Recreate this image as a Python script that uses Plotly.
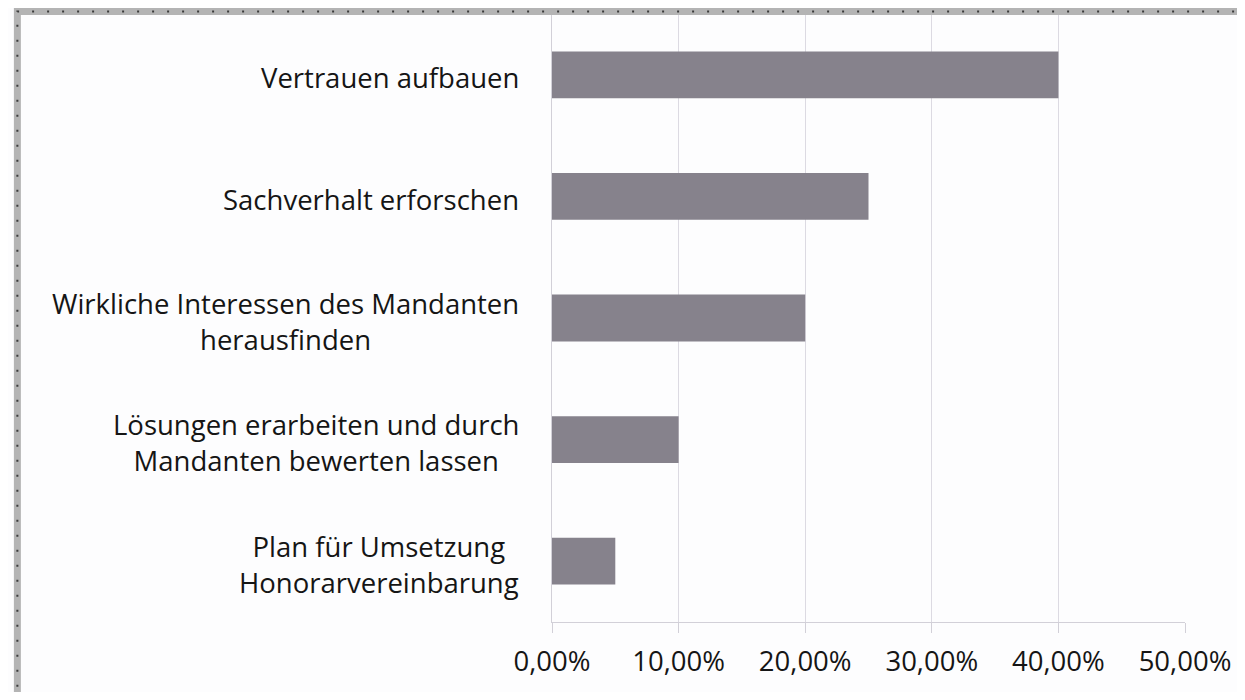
import plotly.graph_objects as go

categories = [
    "Vertrauen aufbauen",
    "Sachverhalt erforschen",
    "Wirkliche Interessen des Mandanten<br>herausfinden",
    "Lösungen erarbeiten und durch<br>Mandanten bewerten lassen",
    "Plan für Umsetzung<br>Honorarvereinbarung",
]
values = [0.40, 0.25, 0.20, 0.10, 0.05]
x_ticks = [0.0, 0.1, 0.2, 0.3, 0.4, 0.5]

OFF = 8  # page body margin
W, H = 1245 - 2 * OFF, 700 - 2 * OFF
# plot area in screen pixels
SL, SR, ST, SB = 552, 1189, 14, 622
L, R, T, B = SL - OFF, SR - OFF, ST - OFF, SB - OFF

def px_x(sx):
    return (sx - SL) / (SR - SL)

def px_y(sy):
    return (SB - sy) / (SB - ST)

FONT = "Open Sans"
TXT = "#151515"
FS = 27.5

fig = go.Figure()
fig.add_trace(go.Bar(
    x=values, y=categories, orientation="h",
    marker=dict(color="#86828c", line=dict(width=0)),
    hoverinfo="skip",
))

fig.update_layout(
    width=W, height=H,
    margin=dict(l=L, r=W - R, t=T, b=H - B, pad=0),
    paper_bgcolor="#fdfdfe", plot_bgcolor="#fdfdfe",
    separators=",.",
    bargap=0.615,
    showlegend=False,
    font=dict(family=FONT, size=FS, color=TXT),
)
fig.update_xaxes(
    range=[0, 0.5], tickvals=x_ticks, tickformat=".2%",
    showgrid=True, gridcolor="#dcdae2", gridwidth=1,
    showline=True, linecolor="#d2d0d8", linewidth=1,
    ticks="outside", ticklen=10, tickcolor="#d2d0d8",
    ticklabelstandoff=5,
    tickfont=dict(family=FONT, size=FS, color=TXT),
    zeroline=False, fixedrange=True,
)
fig.update_yaxes(
    type="category", categoryorder="array", categoryarray=categories,
    range=[4.5, -0.5], showticklabels=False,
    showline=True, linecolor="#d2d0d8", linewidth=1,
    showgrid=False, zeroline=False, ticks="",
)

for c in categories:
    fig.add_annotation(
        x=px_x(521), xref="paper", y=c, yref="y", yshift=-3,
        text=c, showarrow=False, xanchor="right", yanchor="middle",
        align="center", font=dict(family=FONT, size=FS, color=TXT),
    )

# scanned-page frame (gray band with dots)
x0, x1 = px_x(14), px_x(1270)
y0, y1 = px_y(697), px_y(11.5)
fig.add_shape(type="rect", xref="paper", yref="paper", x0=x0, x1=x1, y0=y0, y1=y1,
              line=dict(color="#b4b4b4", width=7), fillcolor="rgba(0,0,0,0)", layer="above")
fig.add_shape(type="rect", xref="paper", yref="paper", x0=x0, x1=x1, y0=y0, y1=y1,
              line=dict(color="#3a3a3a", width=2, dash="2px,13px"), fillcolor="rgba(0,0,0,0)", layer="above")

fig.write_html("out.html")
